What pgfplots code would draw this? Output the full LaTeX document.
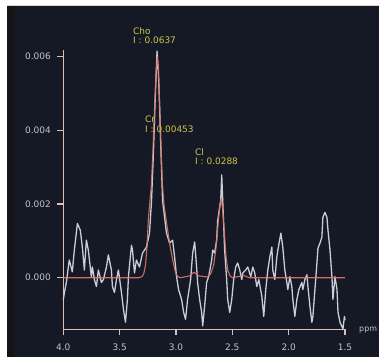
\documentclass[border=0pt]{standalone}
\usepackage{pgfplots}
\pgfplotsset{compat=1.18}
\usepackage{fontspec}
\setmainfont{DejaVu Sans}
\definecolor{bgnavy}{RGB}{21,25,38}
\definecolor{spine}{RGB}{222,190,182}
\definecolor{ticktxt}{RGB}{196,196,200}
\definecolor{graytrace}{RGB}{200,206,214}
\definecolor{redfit}{RGB}{222,120,104}
\definecolor{lblyellow}{RGB}{205,200,70}
\begin{document}
\begin{tikzpicture}
\path[use as bounding box] (0,0) rectangle (379bp,357bp);
\clip (0,0) rectangle (379bp,357bp);
\fill[white] (0,0) rectangle (379bp,357bp);
\fill[bgnavy] (7bp,0) rectangle (379bp,352bp);
\fill[black!92] (7bp,0) rectangle (14bp,352bp);
\draw[spine!70,line width=0.8bp] (7bp,351.6bp) -- (379bp,351.6bp);
\begin{axis}[
  at={(63.3bp,27.7bp)}, anchor=south west,
  scale only axis, width=281.7bp, height=279.3bp,
  xmin=1.5, xmax=4.0, x dir=reverse,
  ymin=-1.4e-3, ymax=6.18e-3,
  axis x line*=bottom, axis y line*=left,
  axis line style={spine, line width=1.1bp},
  tick style={spine, line width=1.1bp},
  tick align=outside, major tick length=6bp,
  xtick={1.5,2.0,2.5,3.0,3.5,4.0},
  ytick={0,0.002,0.004,0.006},
  scaled y ticks=false, scaled x ticks=false,
  /pgf/number format/assume math mode=true,
  xticklabel style={yshift=-5bp, /pgf/number format/fixed, /pgf/number format/fixed zerofill, /pgf/number format/precision=1},
  yticklabel style={xshift=-3bp, /pgf/number format/fixed, /pgf/number format/fixed zerofill, /pgf/number format/precision=3},
  ticklabel style={font=\fontsize{9}{10}\selectfont, text=ticktxt},
  clip=false,
]
\addplot[graytrace, line width=1.3bp, line join=round] coordinates {
(4.000,-0.60e-3) (3.990,-0.40e-3) (3.973,-0.13e-3) (3.947,0.48e-3) (3.920,0.16e-3)
(3.902,0.75e-3) (3.875,1.47e-3) (3.849,1.29e-3) (3.831,0.83e-3) (3.813,0.21e-3)
(3.795,1.02e-3) (3.778,0.75e-3) (3.751,0.03e-3) (3.742,0.29e-3) (3.724,-0.05e-3)
(3.706,-0.24e-3) (3.689,0.21e-3) (3.662,-0.13e-3) (3.644,-0.05e-3) (3.617,0.29e-3)
(3.600,0.62e-3) (3.573,0.21e-3) (3.564,-0.24e-3) (3.546,-0.40e-3) (3.528,-0.05e-3)
(3.511,0.21e-3) (3.484,-0.40e-3) (3.466,-0.86e-3) (3.448,-1.21e-3) (3.431,-0.59e-3)
(3.422,0.03e-3) (3.395,0.88e-3) (3.386,0.75e-3) (3.368,0.13e-3) (3.351,0.48e-3)
(3.324,0.29e-3) (3.297,0.67e-3) (3.279,0.75e-3) (3.262,0.83e-3) (3.235,1.21e-3)
(3.217,2.09e-3) (3.200,3.40e-3) (3.185,4.80e-3) (3.168,6.15e-3) (3.155,5.50e-3)
(3.145,4.60e-3) (3.135,3.60e-3) (3.119,2.09e-3) (3.084,1.21e-3) (3.057,0.94e-3)
(3.030,1.02e-3) (3.012,0.56e-3) (2.995,0.03e-3) (2.977,-0.32e-3) (2.950,-0.59e-3)
(2.932,-0.94e-3) (2.915,-1.13e-3) (2.897,-0.59e-3) (2.870,-0.05e-3) (2.852,0.67e-3)
(2.834,0.97e-3) (2.817,0.29e-3) (2.808,-0.13e-3) (2.790,-0.59e-3) (2.772,-0.94e-3)
(2.763,-1.31e-3) (2.746,-0.78e-3) (2.728,-0.13e-3) (2.710,0.03e-3) (2.683,0.48e-3)
(2.674,0.75e-3) (2.657,0.67e-3) (2.639,1.02e-3) (2.630,1.55e-3) (2.603,2.09e-3)
(2.594,2.79e-3) (2.585,2.09e-3) (2.568,0.75e-3) (2.550,-0.05e-3) (2.541,-0.59e-3)
(2.523,-0.94e-3) (2.505,-0.59e-3) (2.488,-0.05e-3) (2.470,0.29e-3) (2.452,0.40e-3)
(2.434,0.21e-3) (2.416,-0.05e-3) (2.407,0.13e-3) (2.381,0.21e-3) (2.363,0.29e-3)
(2.336,0.03e-3) (2.318,0.29e-3) (2.301,0.13e-3) (2.283,-0.24e-3) (2.265,-0.05e-3)
(2.238,-0.51e-3) (2.221,-1.05e-3) (2.203,-0.32e-3) (2.185,0.21e-3) (2.167,0.56e-3)
(2.149,0.83e-3) (2.141,0.21e-3) (2.123,-0.05e-3) (2.105,0.56e-3) (2.096,0.75e-3)
(2.069,1.21e-3) (2.052,0.83e-3) (2.034,0.21e-3) (2.016,-0.13e-3) (2.007,-0.32e-3)
(1.989,0.03e-3) (1.972,-0.24e-3) (1.963,-0.59e-3) (1.945,-1.05e-3) (1.927,-0.59e-3)
(1.909,-0.32e-3) (1.883,-0.13e-3) (1.874,-0.32e-3) (1.856,-0.05e-3) (1.838,0.08e-3)
(1.829,-0.24e-3) (1.811,-0.78e-3) (1.794,-1.21e-3) (1.785,-1.05e-3) (1.767,-0.32e-3)
(1.749,0.40e-3) (1.740,0.80e-3) (1.722,0.94e-3) (1.705,1.10e-3) (1.696,1.64e-3)
(1.678,1.77e-3) (1.660,1.64e-3) (1.651,1.29e-3) (1.633,0.75e-3) (1.616,0.03e-3)
(1.607,-0.59e-3) (1.589,0.03e-3) (1.571,-0.32e-3) (1.562,-0.94e-3) (1.544,-1.21e-3)
(1.518,-1.39e-3) (1.505,-1.05e-3) (1.500,-1.15e-3)
};
\addplot[redfit, line width=1.1bp, line join=round, opacity=0.9] coordinates {
(4.000,0) (3.330,0) (3.300,0.03e-3) (3.285,0.12e-3) (3.270,0.35e-3) (3.258,0.80e-3)
(3.245,1.60e-3) (3.232,2.05e-3) (3.220,2.45e-3) (3.205,3.40e-3) (3.190,4.60e-3)
(3.176,5.60e-3) (3.166,6.00e-3) (3.156,5.70e-3) (3.146,4.80e-3) (3.136,3.80e-3)
(3.122,2.60e-3) (3.105,1.95e-3) (3.084,1.50e-3) (3.057,0.94e-3) (3.030,0.50e-3)
(3.005,0.15e-3) (2.985,0.03e-3) (2.960,0) (2.880,0.05e-3) (2.840,0.15e-3)
(2.800,0.05e-3) (2.720,0.02e-3) (2.690,0.12e-3) (2.665,0.35e-3) (2.645,0.80e-3)
(2.628,1.40e-3) (2.612,1.95e-3) (2.598,2.15e-3) (2.585,1.85e-3) (2.570,1.20e-3)
(2.555,0.55e-3) (2.540,0.20e-3) (2.520,0.05e-3) (2.500,0) (2.400,0.06e-3)
(2.350,0) (1.500,0)
};
\end{axis}
\begin{scope}[every node/.style={inner sep=0pt, anchor=north west, align=left,
  text=lblyellow, font=\fontsize{9}{10}\selectfont}]
\node at (133bp,330bp) {Cho\\I : 0.0637};
\node at (145bp,241bp) {Cr\\I : 0.00453};
\node at (195bp,209bp) {Cl\\I : 0.0288};
\end{scope}
\node[anchor=west, inner sep=0pt, text=ticktxt, font=\fontsize{8}{9}\selectfont] at (359bp,27bp) {ppm};
\end{tikzpicture}
\end{document}
